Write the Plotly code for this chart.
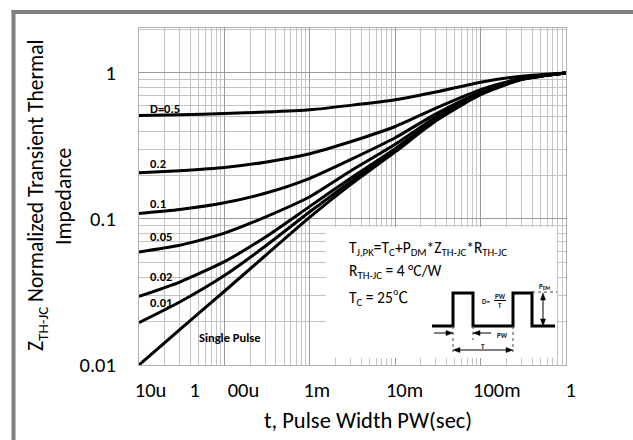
import plotly.graph_objects as go

# ---- data ----
t_vals = [1e-5, 3e-5, 1e-4, 3e-4, 1e-3, 3e-3, 1e-2, 3e-2, 1e-1, 3e-1, 1.0]
z_d05 = [0.512, 0.518, 0.527, 0.540, 0.560, 0.600, 0.655, 0.740, 0.865, 0.950, 1.0]
z_d02 = [0.207, 0.214, 0.225, 0.245, 0.280, 0.338, 0.430, 0.575, 0.770, 0.920, 1.0]
z_d01 = [0.109, 0.116, 0.129, 0.150, 0.190, 0.255, 0.360, 0.525, 0.740, 0.910, 1.0]
z_d005 = [0.0595, 0.066, 0.080, 0.103, 0.142, 0.213, 0.325, 0.500, 0.735, 0.910, 1.0]
z_d002 = [0.0295, 0.037, 0.051, 0.075, 0.122, 0.190, 0.303, 0.480, 0.725, 0.905, 1.0]
z_d001 = [0.0195, 0.027, 0.041, 0.065, 0.112, 0.180, 0.295, 0.475, 0.720, 0.905, 1.0]
z_single = [0.0100, 0.0175, 0.032, 0.056, 0.103, 0.172, 0.288, 0.470, 0.710, 0.900, 1.0]

series = [z_d05, z_d02, z_d01, z_d005, z_d002, z_d001, z_single]
curve_labels = ["D=0.5", "0.2", "0.1", "0.05", "0.02", "0.01", "Single Pulse"]
label_pos = [(-4.9, -0.24), (-4.9, -0.623), (-4.9, -0.897), (-4.9, -1.123),
             (-4.9, -1.397), (-4.9, -1.575), (-3.936, -1.815)]

NB = "\u00a0"
x_tickvals = [1e-5, 1e-4, 1e-3, 1e-2, 1e-1, 1]
x_ticktext = [NB * 5 + "10u", "1" + NB * 6 + "00u", NB * 3 + "1m", NB * 4 + "10m",
              NB * 7 + "100m", NB * 2 + "1"]
y_tickvals = [0.01, 0.1, 1]
y_ticktext = ["0.01", "0.1", "1"]

FONT = "Carlito, Lato, sans-serif"
CJK = "Noto Sans CJK SC"
W, H = 633, 440
L, R, T, B = 139, 566, 28, 365


def px(x):
    return (x - L) / (R - L)


def py(y):
    return (B - y) / (B - T)


fig = go.Figure()
for z in series:
    fig.add_trace(go.Scatter(x=t_vals, y=z, mode="lines",
                             line=dict(color="black", width=3, shape="spline", smoothing=0.6),
                             showlegend=False, hoverinfo="skip"))

annotations = []
for i, ((lx, ly), txt) in enumerate(zip(label_pos, curve_labels)):
    annotations.append(dict(x=lx, y=ly, xref="x", yref="y", text="<b>%s</b>" % txt,
                            showarrow=False, xanchor="left" if i < 6 else "center",
                            yanchor="middle",
                            font=dict(family=FONT, size=12.5, color="black")))

# axis titles
annotations.append(dict(x=px(37), y=py(196), xref="paper", yref="paper",
                        text="Z<sub>TH-JC</sub> Normalized Transient Thermal",
                        textangle=-90, showarrow=False, xanchor="center", yanchor="middle",
                        font=dict(family=FONT, size=21.5, color="black")))
annotations.append(dict(x=px(64), y=py(197), xref="paper", yref="paper",
                        text="Impedance", textangle=-90, showarrow=False,
                        xanchor="center", yanchor="middle",
                        font=dict(family=FONT, size=21.5, color="black")))
annotations.append(dict(x=px(368), y=py(420), xref="paper", yref="paper",
                        text="t, Pulse Width PW(sec)", showarrow=False,
                        xanchor="center", yanchor="middle",
                        font=dict(family=FONT, size=22.5, color="black")))

# box texts
box_font = dict(family=FONT, size=15.5, color="black")
annotations.append(dict(x=px(347), y=py(248), xref="paper", yref="paper",
                        text="T<sub>J,PK</sub>=T<sub>C</sub>+P<sub>DM</sub>*Z<sub>TH-JC</sub>*R<sub>TH-JC</sub>",
                        showarrow=False, xanchor="left", yanchor="middle", font=box_font))
annotations.append(dict(x=px(347), y=py(271), xref="paper", yref="paper",
                        text="R<sub>TH-JC</sub> = 4 °C/W",
                        showarrow=False, xanchor="left", yanchor="middle", font=box_font))
annotations.append(dict(x=px(347), y=py(297), xref="paper", yref="paper",
                        text="T<sub>C</sub> = 25<span style=\"font-family:'%s'\">℃</span>" % CJK,
                        showarrow=False, xanchor="left", yanchor="middle", font=box_font))

tiny = dict(family=FONT, size=7, color="#222")
for (x, y, txt) in [(544, 286, "<b>P<sub>DM</sub></b>"), (486, 301, "<b>D=</b>"),
                    (500, 296, "<b>PW</b>"), (500, 305, "<b>T</b>"),
                    (502, 335, "<b>PW</b>"), (483, 346, "<b>T</b>")]:
    annotations.append(dict(x=px(x), y=py(y), xref="paper", yref="paper", text=txt,
                            showarrow=False, xanchor="center", yanchor="middle", font=tiny))

shapes = []
# outer gray frame
shapes.append(dict(type="line", xref="paper", yref="paper", x0=px(13.5), x1=px(13.5),
                   y0=py(10), y1=py(460), line=dict(color="#808080", width=4)))
shapes.append(dict(type="line", xref="paper", yref="paper", x0=px(11.5), x1=px(650),
                   y0=py(12), y1=py(12), line=dict(color="#808080", width=4)))
# white info box
shapes.append(dict(type="rect", xref="paper", yref="paper", x0=px(326), x1=px(557),
                   y0=py(358), y1=py(227), fillcolor="white", line=dict(width=0), layer="above"))


def poly(points, closed=False):
    p = "M " + " L ".join("%f,%f" % (px(x), py(y)) for x, y in points)
    return p + (" Z" if closed else "")


# pulse waveform
wave = [(432, 326), (453, 326), (453, 293), (473, 293), (473, 326), (513, 326),
        (513, 293), (532, 293), (532, 326), (555, 326)]
shapes.append(dict(type="path", xref="paper", yref="paper", path=poly(wave),
                   line=dict(color="black", width=3), layer="above"))
dot = dict(color="#444", width=1, dash="dot")
for (x0, y0, x1, y1) in [(453, 326, 453, 352), (473, 326, 473, 340), (513, 326, 513, 352),
                         (532, 292, 557, 292)]:
    shapes.append(dict(type="line", xref="paper", yref="paper", x0=px(x0), x1=px(x1),
                       y0=py(y0), y1=py(y1), line=dot, layer="above"))
solid = dict(color="black", width=1)
for (x0, y0, x1, y1) in [(434, 333, 450, 333), (476, 333, 491, 333), (456, 350, 510, 350),
                         (543, 296, 543, 323), (494, 300.5, 506, 300.5)]:
    shapes.append(dict(type="line", xref="paper", yref="paper", x0=px(x0), x1=px(x1),
                       y0=py(y0), y1=py(y1), line=solid, layer="above"))
heads = [
    [(453, 333), (446, 330.5), (446, 335.5)],
    [(473, 333), (480, 330.5), (480, 335.5)],
    [(453, 350), (460, 347.5), (460, 352.5)],
    [(513, 350), (506, 347.5), (506, 352.5)],
    [(543, 293), (540.5, 300), (545.5, 300)],
    [(543, 326), (540.5, 319), (545.5, 319)],
]
for hd in heads:
    shapes.append(dict(type="path", xref="paper", yref="paper", path=poly(hd, True),
                       fillcolor="black", line=dict(color="black", width=0.5), layer="above"))

grid_major = "#9a9a9a"
grid_minor = "#c4c4c4"
fig.update_layout(
    width=W, height=H, margin=dict(l=L, r=W - R, t=T, b=H - B),
    paper_bgcolor="white", plot_bgcolor="white",
    showlegend=False, annotations=annotations, shapes=shapes,
    xaxis=dict(type="log", range=[-5, 0], tickmode="array", tickvals=x_tickvals,
               ticktext=x_ticktext, showgrid=True, gridcolor=grid_major, gridwidth=1.3,
               minor=dict(dtick="D1", showgrid=True, gridcolor=grid_minor, gridwidth=1.3),
               showline=True, linecolor="#b0b0b0", linewidth=1, mirror=True,
               ticks="", ticklabelstandoff=6, zeroline=False,
               tickfont=dict(family=FONT, size=20.5, color="black")),
    yaxis=dict(type="log", range=[-2, 0.308], tickmode="array", tickvals=y_tickvals,
               ticktext=y_ticktext, showgrid=True, gridcolor=grid_major, gridwidth=1.3,
               minor=dict(dtick="D1", showgrid=True, gridcolor=grid_minor, gridwidth=1.3),
               showline=True, linecolor="#b0b0b0", linewidth=1, mirror=True,
               ticks="", ticklabelstandoff=18, zeroline=False,
               tickfont=dict(family=FONT, size=20.5, color="black")),
)

fig.write_html("out.html", config={"displayModeBar": False},
               post_script="document.body.style.margin='0px';")
